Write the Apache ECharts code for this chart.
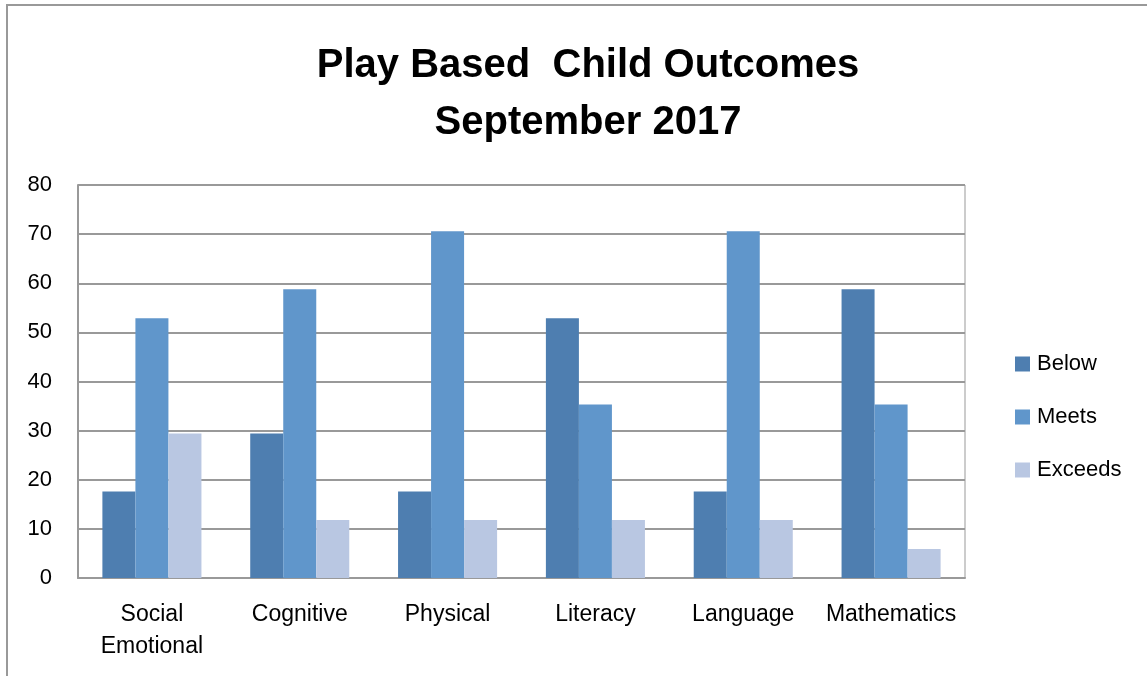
<!DOCTYPE html>
<html><head><meta charset="utf-8">
<script src="https://cdn.jsdelivr.net/npm/echarts@6/dist/echarts.min.js"></script>
<style>html,body{margin:0;padding:0;background:#fff}#c{width:1147px;height:676px}</style>
</head><body><div id="c"></div>
<script>
const categories = ['Social\nEmotional', 'Cognitive', 'Physical', 'Literacy', 'Language', 'Mathematics'];
const below = [17.6, 29.4, 17.6, 52.9, 17.6, 58.8];
const meets = [52.9, 58.8, 70.6, 35.3, 70.6, 35.3];
const exceeds = [29.4, 11.8, 11.8, 11.8, 11.8, 5.9];
const seriesNames = ['Below', 'Meets', 'Exceeds'];
const yTicks = {min: 0, max: 80, interval: 10};

const font = 'Liberation Sans, Arial, sans-serif';
const chart = echarts.init(document.getElementById('c'));
chart.setOption({
  animation: false,
  backgroundColor: '#fff',
  color: ['#4E7EB0', '#6096CB', '#B9C7E2'],
  title: {
    text: 'Play Based  Child Outcomes\nSeptember 2017',
    left: 583, top: 32, textAlign: 'center',
    textStyle: {fontFamily: font, fontSize: 40, fontWeight: 'bold', color: '#000', lineHeight: 57}
  },
  legend: {
    orient: 'vertical', left: 1010, top: 348, itemGap: 31,
    itemWidth: 15, itemHeight: 15, icon: 'rect',
    textStyle: {fontFamily: font, fontSize: 22, color: '#000', padding: [0, 0, 0, 2]},
    data: seriesNames
  },
  grid: {left: 78, right: 182, top: 185, bottom: 98, show: true, borderColor: '#999', borderWidth: 1},
  xAxis: {
    type: 'category', data: categories,
    axisLine: {lineStyle: {color: '#999', width: 2}},
    axisTick: {show: false},
    axisLabel: {fontFamily: font, fontSize: 23, color: '#000', margin: 21, lineHeight: 32, interval: 0}
  },
  yAxis: {
    type: 'value', min: yTicks.min, max: yTicks.max, interval: yTicks.interval,
    axisLine: {show: true, lineStyle: {color: '#999', width: 2}},
    axisTick: {show: false},
    splitLine: {lineStyle: {color: '#999', width: 2}},
    axisLabel: {fontFamily: font, fontSize: 22, color: '#000', margin: 26}
  },
  series: [
    {name: seriesNames[0], type: 'bar', data: below, barGap: '0%', barCategoryGap: '33%'},
    {name: seriesNames[1], type: 'bar', data: meets, barGap: '0%', barCategoryGap: '33%'},
    {name: seriesNames[2], type: 'bar', data: exceeds, barGap: '0%', barCategoryGap: '33%'}
  ],
  graphic: [{
    type: 'polyline', silent: true,
    shape: {points: [[7, 676], [7, 5], [1147, 5]]},
    style: {stroke: '#999', lineWidth: 2, fill: null}
  }]
});
</script></body></html>
